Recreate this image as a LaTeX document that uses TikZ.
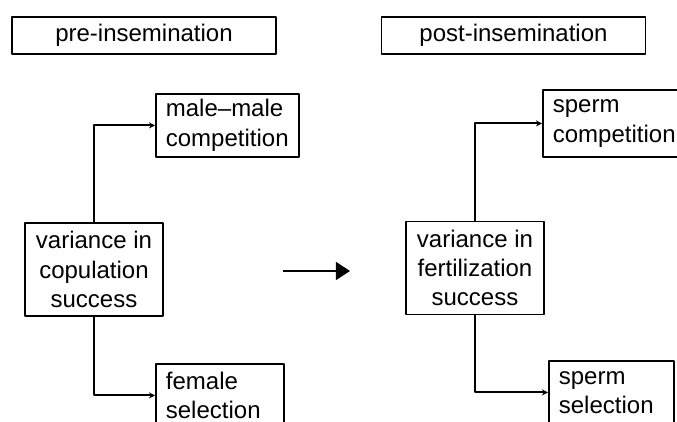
\documentclass[tikz,border=0pt]{standalone}
\usepackage{fontspec}
\setmainfont{Liberation Sans}
\usetikzlibrary{arrows.meta}

\begin{document}
\begin{tikzpicture}[x=0.5pt, y=-0.5pt, >={Stealth[length=3pt,width=3pt]}, line width=0.9pt, line join=round,
    every node/.style={font=\fontsize{12}{14.7}\selectfont},
    phase/.style={draw, minimum width=132pt, minimum height=18.5pt, inner sep=0pt},
    variance/.style={draw, align=center, minimum width=69pt, minimum height=46.5pt, inner sep=0pt},
    trait/.style={draw, align=left, anchor=north west, minimum height=31.5pt, inner xsep=5pt, inner ysep=0pt}]
    % Frame
    \useasboundingbox (0,0) rectangle (677,422);
    \clip (0,0) rectangle (677,422);

    % Phase headings
    \node[phase] (pre) at (144,35.5) {pre-insemination};
    \node[phase] (post) at (513.5,35.5) {post-insemination};

    % Left side (before insemination)
    \node[variance] (vcop) at (94,269.5) {variance in\\copulation\\success};
    \node[trait, text width=61.5pt] (male) at (155,93) {male--male\\competition};
    \node[trait, text width=54pt] (female) at (155,363) {female\\selection};
    \draw[->] (vcop.north) |- (male.west);
    \draw[->] (vcop.south) |- (female.west);

    % Right side (after insemination)
    \node[variance] (vfert) at (475,268) {variance in\\fertilization\\success};
    \node[trait, text width=61pt, minimum height=33.5pt] (spcomp) at (542,89) {sperm\\competition};
    \node[trait, text width=52.5pt] (spsel) at (548,360) {sperm\\selection};
    \draw[->] (vfert.north) |- (spcomp.west);
    \draw[->] (vfert.south) |- (spsel.west);

    % Arrow between the two phases
    \coordinate (gap-start) at (283,271);
    \coordinate (gap-end) at (350,271);
    \draw[line width=0.6pt, -{Triangle[length=7pt,width=9pt]}] (gap-start) -- (gap-end);

\end{tikzpicture}
\end{document}
